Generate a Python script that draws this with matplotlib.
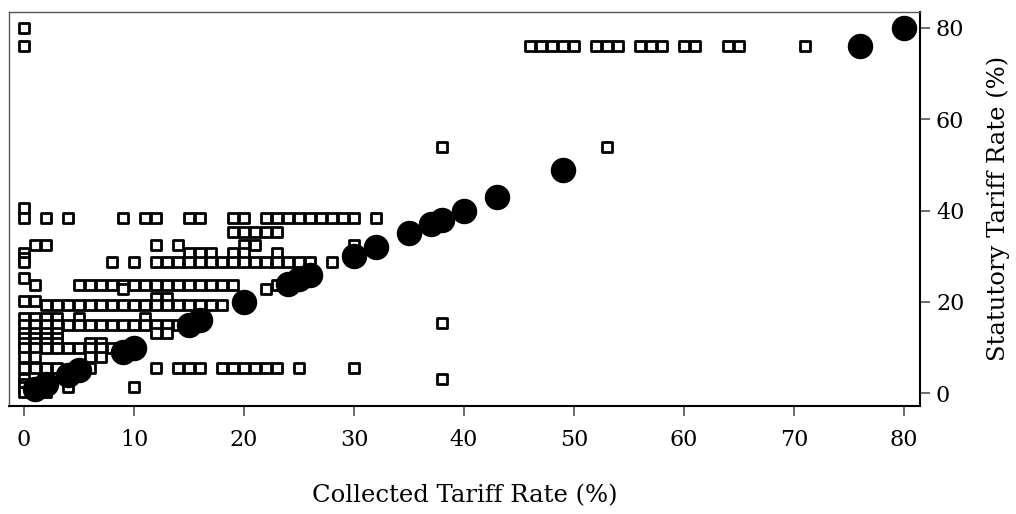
import numpy as np
import matplotlib
matplotlib.use("Agg")
import matplotlib.pyplot as plt

plt.rcParams['font.family'] = ['DejaVu Serif']

# hollow squares: statutory rate row -> collected rates on that row
sq_rows = [
    (80.0, [0]),
    (76.1, [0, 46, 47, 48, 49, 50, 52, 53, 54, 56, 57, 58, 60, 61, 64, 65, 71]),
    (53.9, [38, 53]),
    (40.6, [0]),
    (38.3, [0, 2, 4, 9, 11, 12, 15, 16, 19, 20, 22, 23, 24, 25, 26, 27, 28, 29, 30, 32]),
    (35.4, [19, 20, 21, 22, 23]),
    (32.4, [1, 2, 12, 14, 20, 21, 30]),
    (30.8, [0, 15, 16, 17, 19, 20, 23]),
    (29.7, [0]),
    (28.8, [0, 8, 10, 12, 13, 14, 15, 16, 17, 18, 19, 20, 21, 22, 23, 24, 25, 26, 28]),
    (25.3, [0]),
    (23.7, [1, 5, 6, 7, 8, 9, 10, 11, 12, 13, 14, 15, 16, 17, 18, 19, 23]),
    (22.8, [9, 22]),
    (20.9, [12, 13]),
    (20.3, [0, 1]),
    (19.3, [2, 3, 4, 5, 6, 7, 8, 9, 10, 11, 12, 13, 14, 15, 16, 17, 18]),
    (16.5, [0, 1, 2, 3, 5, 11]),
    (15.5, [38]),
    (15.0, [0, 1, 2, 3, 4, 5, 6, 7, 8, 9, 10, 11, 12, 13, 14]),
    (13.2, [0, 1, 2, 3, 12, 13]),
    (12.0, [0, 1, 2, 3]),
    (11.0, [0, 1, 2, 3, 6, 7]),
    (9.9, [0, 1, 2, 3, 4, 5, 6, 7, 8]),
    (8.0, [0, 1, 6, 7]),
    (5.5, [0, 1, 2, 3, 6, 12, 14, 15, 16, 18, 19, 20, 21, 22, 23, 25, 30]),
    (3.1, [0, 38]),
    (2.0, [0, 2]),
    (1.4, [0, 4, 10]),
    (0.3, [0, 1, 2]),
]

# filled circles (collected == statutory)
circle_rates = [1, 2, 4, 5, 9, 10, 15, 16, 20, 24, 25, 26, 30, 32, 35, 37, 38, 40, 43, 49, 76, 80]

sq_x = [x for y, xs in sq_rows for x in xs]
sq_y = [y for y, xs in sq_rows for x in xs]

fig = plt.figure(figsize=(10.16, 5.14), dpi=100)
ax = fig.add_axes([9/1016, 1-405.7/514, 911/1016, 393.7/514])

ax.scatter(sq_x, sq_y, marker='s', s=48, facecolors='white', edgecolors='black',
           linewidths=2.0, zorder=2)
ax.scatter(circle_rates, circle_rates, marker='o', s=300, color='black', zorder=3)

ax.set_xlim(-1.364, 81.45)
ax.set_ylim(-2.72, 83.5)
ax.set_xticks(np.arange(0, 81, 10))
ax.set_yticks(np.arange(0, 81, 20))

ax.yaxis.tick_right()
ax.yaxis.set_label_position('right')
ax.tick_params(axis='both', direction='out', length=7.5, width=1.1, color='#444',
               labelsize=16)
ax.tick_params(axis='x', pad=9)
ax.tick_params(axis='y', pad=4)

for side in ['top', 'left']:
    ax.spines[side].set_color('#555')
    ax.spines[side].set_linewidth(1.0)
for side in ['bottom', 'right']:
    ax.spines[side].set_color('black')
    ax.spines[side].set_linewidth(1.5)

ax.set_xlabel('Collected Tariff Rate (%)', fontsize=17.5)
ax.set_ylabel('Statutory Tariff Rate (%)', fontsize=17.5)
ax.xaxis.set_label_coords(0.5, -0.199)
ax.yaxis.set_label_coords(1.0725, 0.5)

fig.savefig('out.png', dpi=100)
